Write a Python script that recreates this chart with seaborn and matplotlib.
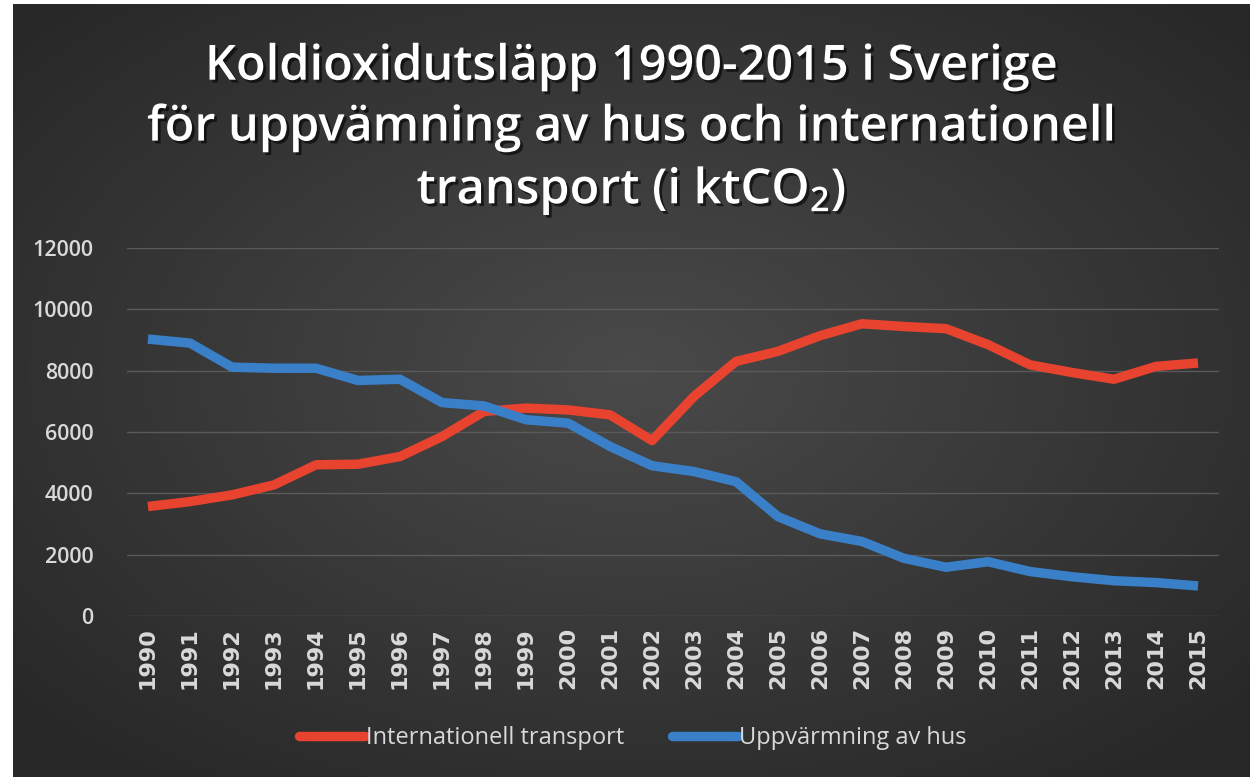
import numpy as np
import pandas as pd
import matplotlib
matplotlib.use("Agg")
import matplotlib.pyplot as plt
import matplotlib.patheffects as pe
from matplotlib.lines import Line2D
import seaborn as sns

years = list(range(1990, 2016))
transport = [3570, 3730, 3950, 4275, 4930, 4950, 5200, 5850, 6670, 6780, 6720, 6560,
             5720, 7160, 8300, 8630, 9140, 9530, 9440, 9370, 8850, 8190, 7940, 7720, 8140, 8250]
heating = [9030, 8900, 8115, 8080, 8080, 7680, 7720, 6960, 6850, 6400, 6290, 5530,
           4900, 4710, 4380, 3240, 2680, 2430, 1880, 1590, 1770, 1450, 1280, 1150, 1090, 980]
series_names = ["Internationell transport", "Uppvärmning av hus"]
colors = ["#e8432f", "#3a80c9"]
yticks = [0, 2000, 4000, 6000, 8000, 10000, 12000]
title = "Koldioxidutsläpp 1990-2015 i Sverige\nför uppvämning av hus och internationell\ntransport (i ktCO$_2$)"

df = pd.DataFrame({
    "year": years * 2,
    "value": transport + heating,
    "series": [series_names[0]] * len(years) + [series_names[1]] * len(years),
})

sns.set_theme(style="dark")
plt.rcParams["font.family"] = ["Open Sans", "DejaVu Sans"]
plt.rcParams["mathtext.fontset"] = "custom"
plt.rcParams["mathtext.rm"] = "Open Sans:semibold"
plt.rcParams["mathtext.it"] = "Open Sans:semibold"
plt.rcParams["mathtext.bf"] = "Open Sans:semibold"

W, H = 1253, 777
fig = plt.figure(figsize=(W / 100, H / 100), dpi=100, facecolor="white")

# background gradient panel
bg = fig.add_axes([13 / W, 0, (1250 - 13) / W, (777 - 4) / H])
bg.set_axis_off()
gx, gy = np.meshgrid(np.linspace(-1, 1, 400), np.linspace(-1, 1, 300))
r = np.sqrt(gx ** 2 + (gy + 0.05) ** 2)
lum = 0.29 - 0.13 * np.clip(r, 0, 1.3) / 1.3
img = np.dstack([lum, lum, lum])
bg.imshow(img, aspect="auto", extent=[0, 1, 0, 1], interpolation="bilinear")
bg.set_xlim(0, 1)
bg.set_ylim(0, 1)

ax = fig.add_axes([127 / W, 1 - 616 / H, (1219 - 127) / W, (616 - 248) / H])
ax.set_facecolor("none")
sns.lineplot(data=df, x="year", y="value", hue="series", palette=colors,
             linewidth=6.8, ax=ax, legend=False)
for ln in ax.lines:
    ln.set_solid_capstyle("butt")
    ln.set_solid_joinstyle("round")

ax.set_xlim(1989.5, 2015.5)
ax.set_ylim(0, 12000)
ax.set_yticks(yticks)
ax.set_yticklabels([str(t) for t in yticks])
ax.set_xticks(years)
ax.set_xticklabels([str(y) for y in years], rotation=90)
ax.tick_params(axis="y", colors="#d9d9d9", labelsize=15.5, length=0, pad=24)
ax.tick_params(axis="x", colors="#d9d9d9", labelsize=16, length=0, pad=8)
for lbl in ax.get_xticklabels():
    lbl.set_fontweight("bold")
    lbl.set_fontfamily("DejaVu Sans")
for lbl in ax.get_yticklabels():
    lbl.set_fontweight("semibold")
ax.grid(axis="y", color="#5a5a5a", linewidth=1)
ax.grid(axis="x", visible=False)
for s in ax.spines.values():
    s.set_visible(False)
ax.set_xlabel("")
ax.set_ylabel("")

fig.text(0.504, 1 - 130 / H, title, ha="center", va="center", color="white",
         fontsize=35, fontweight="semibold", linespacing=1.3,
         path_effects=[pe.withSimplePatchShadow(offset=(2, -2), shadow_rgbFace="black", alpha=0.6)])

handles = [Line2D([0], [0], color=c, linewidth=6.8) for c in colors]
leg = fig.legend(handles, series_names, loc="center", bbox_to_anchor=(0.505, 1 - 738 / H),
                 ncol=2, frameon=False, fontsize=17, handlelength=2.8, handletextpad=0.05,
                 columnspacing=2.0, labelcolor="#d9d9d9")

fig.savefig("out.png", dpi=100, facecolor="white")
